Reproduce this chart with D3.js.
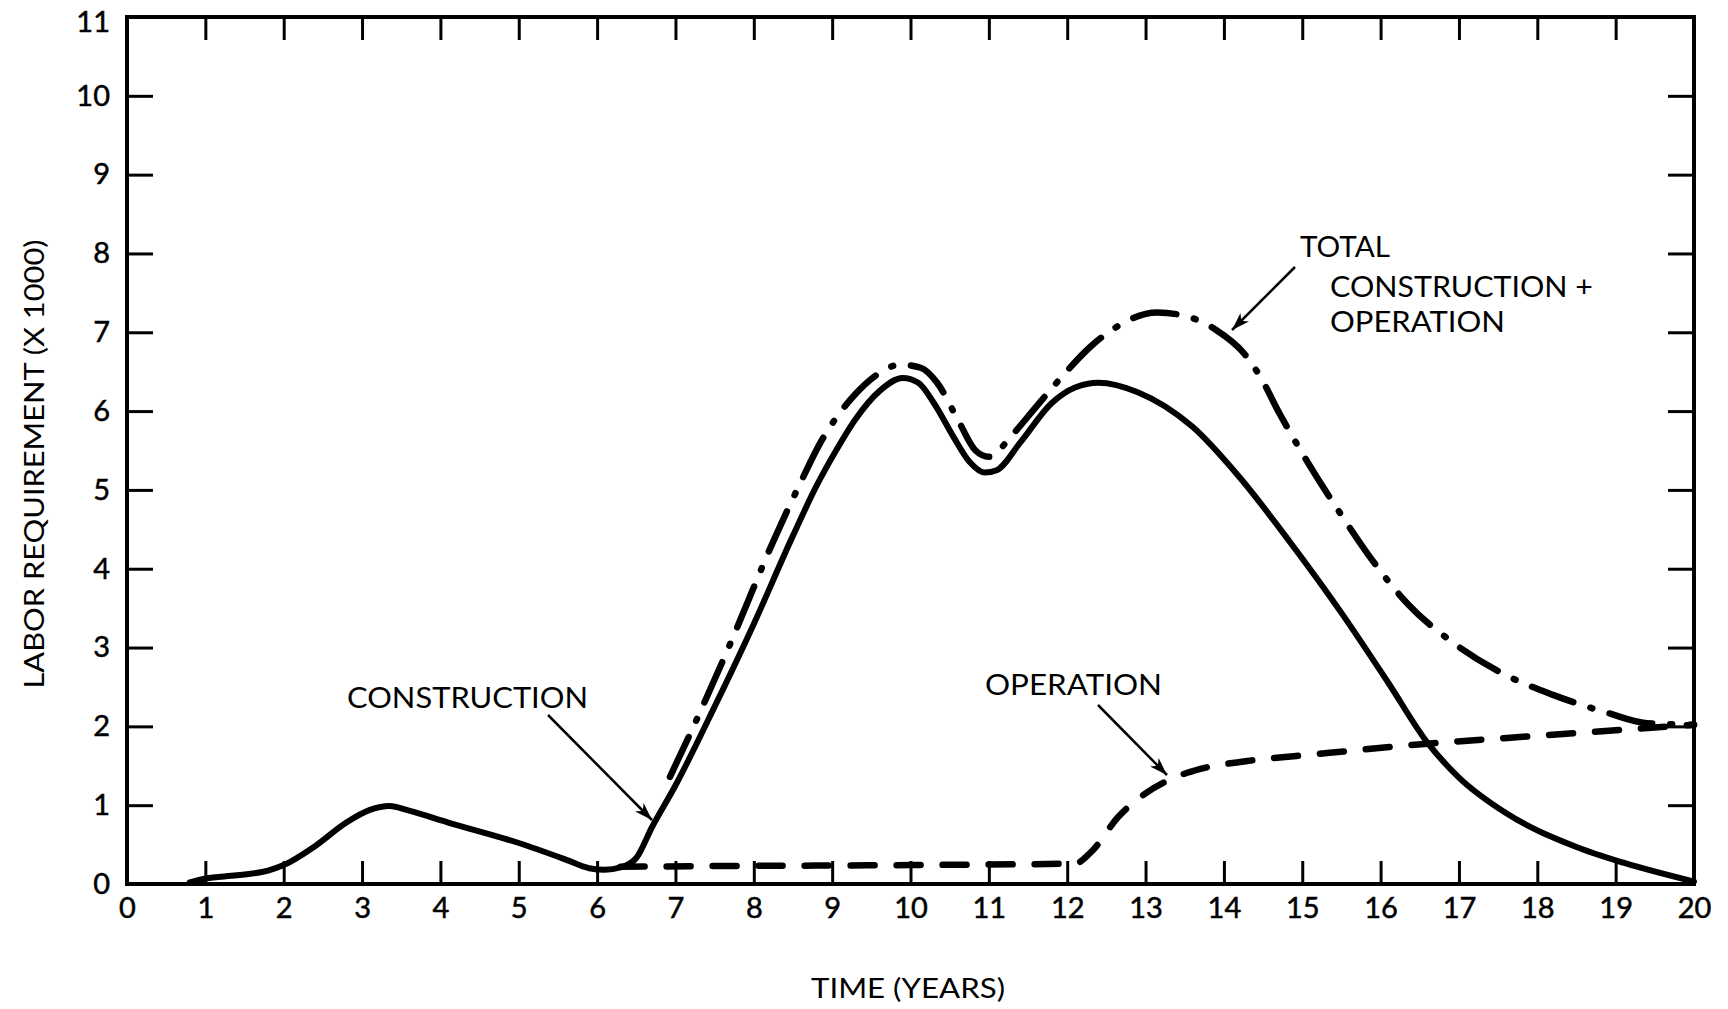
<!DOCTYPE html>
<html>
<head>
<meta charset="utf-8">
<script src="https://cdn.jsdelivr.net/npm/d3@7"></script>
<style>
  html, body { margin: 0; padding: 0; background: #fff; }
  svg text { font-family: Lato, "Open Sans", sans-serif; fill: #000; }
</style>
</head>
<body>
<svg id="chart" width="1728" height="1009"></svg>
<script>
// labor requirement (x 1000) by year
const construction = [
  [0.8,0.02],[1,0.07],[1.4,0.11],[1.8,0.17],[2,0.24],[2.4,0.48],[2.8,0.78],[3.1,0.94],
  [3.35,0.99],[3.6,0.93],[4.1,0.78],[5,0.52],[5.6,0.31],[5.9,0.2],[6.1,0.18],[6.3,0.21],
  [6.5,0.33],[6.7,0.72],[7,1.25],[7.5,2.25],[8,3.3],[8.5,4.42],[8.8,5.05],[9.05,5.5],
  [9.3,5.9],[9.6,6.25],[9.9,6.42],[10.1,6.36],[10.3,6.1],[10.55,5.67],[10.75,5.36],
  [10.95,5.22],[11.1,5.25],[11.4,5.6],[11.8,6.1],[12.1,6.3],[12.4,6.36],[12.9,6.24],
  [13.6,5.8],[14.2,5.16],[14.85,4.33],[15.5,3.44],[16.1,2.55],[16.6,1.79],[17,1.35],
  [17.6,0.9],[18.5,0.47],[19.1,0.27],[20,0.03]
];
const operation = [
  [6.3,0.22],[8,0.23],[10,0.24],[12.1,0.26],[12.3,0.4],[12.65,0.85],[13,1.15],[13.3,1.32],
  [13.7,1.46],[14.3,1.56],[15.2,1.65],[16.6,1.78],[18,1.88],[19,1.95],[20,2.02]
];
const total = [
  [6.93,1.36],[7.3,2.15],[7.7,3.05],[8.25,4.35],[8.6,5.1],[8.85,5.6],[9.1,5.98],[9.3,6.22],
  [9.6,6.48],[9.87,6.59],[10.13,6.55],[10.34,6.36],[10.6,5.9],[10.83,5.5],[11.0,5.42],
  [11.3,5.7],[11.6,6.05],[11.9,6.4],[12.3,6.82],[12.6,7.05],[13.15,7.25],[13.45,7.22],
  [13.9,7.03],[14.25,6.74],[14.45,6.46],[14.72,5.95],[15.07,5.35],[15.5,4.68],[15.9,4.1],
  [16.35,3.55],[16.9,3.08],[17.6,2.65],[18.2,2.4],[18.9,2.17],[19.4,2.04],[20,2.02]
];
const xTicks = d3.range(0, 21);
const yTicks = d3.range(0, 12);

const margin = {left: 127, right: 34, top: 17, bottom: 125};
const W = 1728, H = 1009;
const svg = d3.select("#chart");

const x = d3.scaleLinear().domain([0, 20]).range([margin.left, W - margin.right]);
const y = d3.scaleLinear().domain([0, 11]).range([H - margin.bottom, margin.top]);

// arrowhead
svg.append("defs").append("marker")
    .attr("id", "arr").attr("markerUnits", "userSpaceOnUse")
    .attr("markerWidth", 20).attr("markerHeight", 14)
    .attr("refX", 18).attr("refY", 6).attr("orient", "auto")
  .append("path").attr("d", "M0,0 L18,6 L0,12 L5,6 Z").attr("fill", "#000");

// axes: ticks drawn inward on all four sides
const axisStyle = function(g, labels){
    g.select(".domain").remove();
    g.selectAll(".tick line").attr("stroke", "#000").attr("stroke-width", 3);
    if (!labels) g.selectAll(".tick text").remove();
    else g.selectAll(".tick text").attr("font-size", 29).attr("fill", "#000")
        .attr("stroke", "#000").attr("stroke-width", 0.5);
};
svg.append("g").attr("transform", `translate(0,${y(0)})`)
    .call(d3.axisBottom(x).tickValues(xTicks).tickSize(-23).tickPadding(13).tickFormat(d3.format("d")))
    .call(g => axisStyle(g, true));
svg.append("g").attr("transform", `translate(0,${y(11)})`)
    .call(d3.axisTop(x).tickValues(xTicks).tickSize(-23))
    .call(g => axisStyle(g, false));
svg.append("g").attr("transform", `translate(${x(0)},0)`)
    .call(d3.axisLeft(y).tickValues(yTicks).tickSize(-26).tickPadding(17).tickFormat(d3.format("d")))
    .call(g => axisStyle(g, true))
    // top label sits a little lower in the original, keeps it inside the page
    .call(g => g.selectAll(".tick text").filter(d => d === 11).attr("y", 5));
svg.append("g").attr("transform", `translate(${x(20)},0)`)
    .call(d3.axisRight(y).tickValues(yTicks).tickSize(-26))
    .call(g => axisStyle(g, false));

svg.append("rect")
    .attr("x", x(0)).attr("y", y(11))
    .attr("width", x(20) - x(0)).attr("height", y(0) - y(11))
    .attr("fill", "none").attr("stroke", "#000").attr("stroke-width", 4);

// curves
const line = d3.line().x(d => x(d[0])).y(d => y(d[1])).curve(d3.curveMonotoneX);
svg.append("path").datum(construction).attr("d", line)
    .attr("fill", "none").attr("stroke", "#000").attr("stroke-width", 6)
    .attr("stroke-linecap", "round").attr("stroke-linejoin", "round");
svg.append("path").datum(operation).attr("d", line)
    .attr("fill", "none").attr("stroke", "#000").attr("stroke-width", 6.5)
    .attr("stroke-linecap", "round").attr("stroke-dasharray", "24,22");
svg.append("path").datum(total).attr("d", line)
    .attr("fill", "none").attr("stroke", "#000").attr("stroke-width", 6.5)
    .attr("stroke-linecap", "round").attr("stroke-dasharray", "44,18,2,18");

// annotations
const note = function(txt, px, py, len){
    svg.append("text").attr("x", px).attr("y", py).attr("font-size", 29)
        .attr("textLength", len).attr("lengthAdjust", "spacingAndGlyphs").text(txt);
};
note("CONSTRUCTION", 347, 708, 241);
note("OPERATION", 985, 695, 177);
note("TOTAL", 1300, 257, 90);
note("CONSTRUCTION +", 1330, 297, 263);
note("OPERATION", 1330, 332, 175);

const arrow = function(x1, y1, x2, y2){
    svg.append("line").attr("x1", x1).attr("y1", y1).attr("x2", x2).attr("y2", y2)
        .attr("stroke", "#000").attr("stroke-width", 2.5).attr("marker-end", "url(#arr)");
};
arrow(548, 715, 652, 820);
arrow(1098, 705, 1167, 775);
arrow(1295, 267, 1232, 330);

// axis titles
svg.append("text").attr("x", 908).attr("y", 998).attr("text-anchor", "middle")
    .attr("font-size", 27).attr("textLength", 194).attr("lengthAdjust", "spacingAndGlyphs")
    .text("TIME (YEARS)");
svg.append("text").attr("transform", "translate(44,464) rotate(-90)")
    .attr("text-anchor", "middle").attr("font-size", 27)
    .attr("textLength", 449).attr("lengthAdjust", "spacingAndGlyphs")
    .text("LABOR REQUIREMENT (X 1000)");
</script>
</body>
</html>
